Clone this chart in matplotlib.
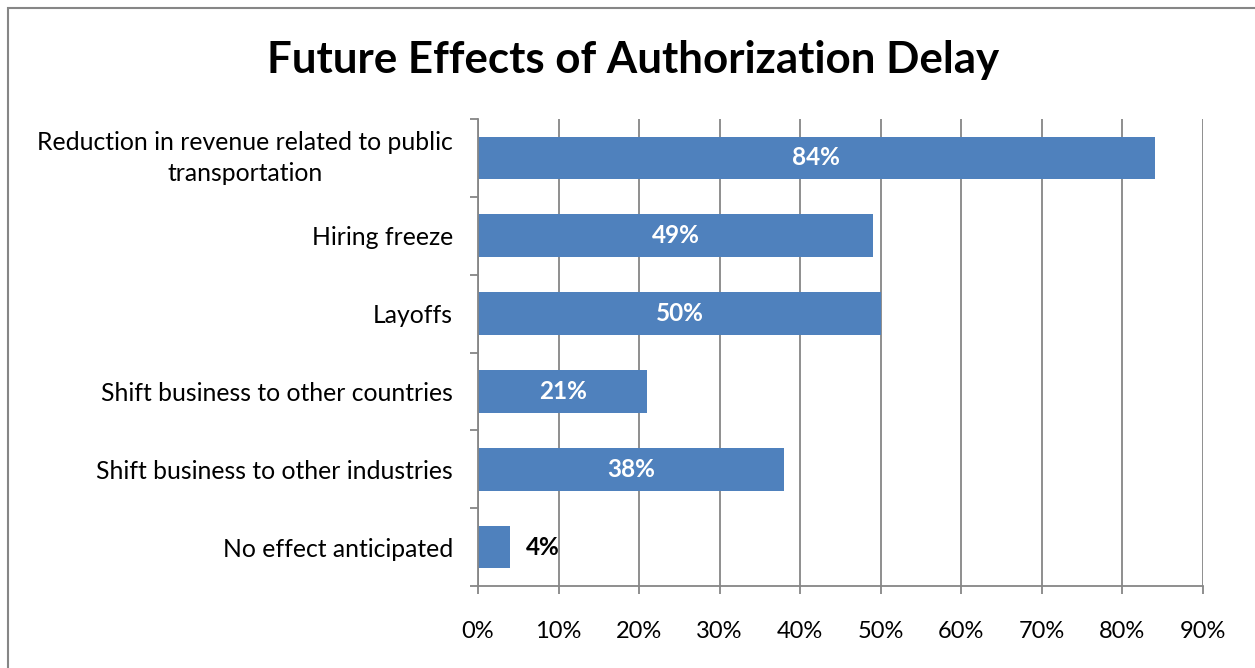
import matplotlib
matplotlib.use("Agg")
import matplotlib.pyplot as plt
from matplotlib.patches import Rectangle
from matplotlib.ticker import FixedLocator, PercentFormatter

categories = [
    "Reduction in revenue related to public\ntransportation",
    "Hiring freeze",
    "Layoffs",
    "Shift business to other countries",
    "Shift business to other industries",
    "No effect anticipated",
]
values = [84, 49, 50, 21, 38, 4]
labels = ["84%", "49%", "50%", "21%", "38%", "4%"]
title = "Future Effects of Authorization Delay"

FONT = "Lato"
BAR = "#4F81BD"
GRID = "#868686"

fig = plt.figure(figsize=(12.55, 6.68), dpi=100)
fig.patch.set_facecolor("white")
ax = fig.add_axes([478/1255, 1-586/668, (1203-478)/1255, (586-119)/668])

y = list(range(len(categories)))
ax.barh(y, values, height=0.55, color=BAR, zorder=3)
ax.set_xlim(0, 90)
ax.set_ylim(len(categories)-0.5, -0.5)

ax.set_xticks(range(0, 91, 10))
ax.xaxis.set_major_formatter(PercentFormatter(decimals=0))
ax.grid(axis="x", color=GRID, lw=1.3, zorder=0)
ax.set_axisbelow(True)

for s in ["top", "right"]:
    ax.spines[s].set_visible(False)
for s in ["left", "bottom"]:
    ax.spines[s].set_color(GRID)
    ax.spines[s].set_linewidth(1.3)
    ax.spines[s].set_zorder(4)

ax.set_yticks(y)
ax.set_yticklabels(categories, fontsize=17.8, family=FONT, multialignment="center",
                   linespacing=1.43)
for t in ax.get_yticklabels():
    if "\n" in t.get_text():
        t.set_verticalalignment("center")
ax.yaxis.set_minor_locator(FixedLocator([i - 0.5 for i in range(len(categories)+1)]))
ax.tick_params(axis="y", which="major", length=0, pad=18)
ax.tick_params(axis="y", which="minor", length=6, width=1.3, color=GRID, direction="out")
ax.tick_params(axis="x", which="major", length=6, width=1.3, color=GRID, pad=19, labelsize=17)
for t in ax.get_xticklabels():
    t.set_family(FONT)

for i, (v, lab) in enumerate(zip(values, labels)):
    if v >= 10:
        ax.text(v/2, i, lab, ha="center", va="center", color="white",
                fontsize=17.5, fontweight="bold", family=FONT, zorder=5)
    else:
        ax.text(v + 2, i, lab, ha="left", va="center", color="black",
                fontsize=17.5, fontweight="bold", family=FONT, zorder=5)

fig.text(633/1255, 1-60/668, title, ha="center", va="center",
         fontsize=31.6, fontweight="bold", family=FONT)

fig.patches.append(Rectangle((8/1255, -0.1), 1.2, 1-8/668+0.1, transform=fig.transFigure,
                             fill=False, edgecolor=GRID, lw=1.5, figure=fig))

fig.savefig("out.png", dpi=100)
